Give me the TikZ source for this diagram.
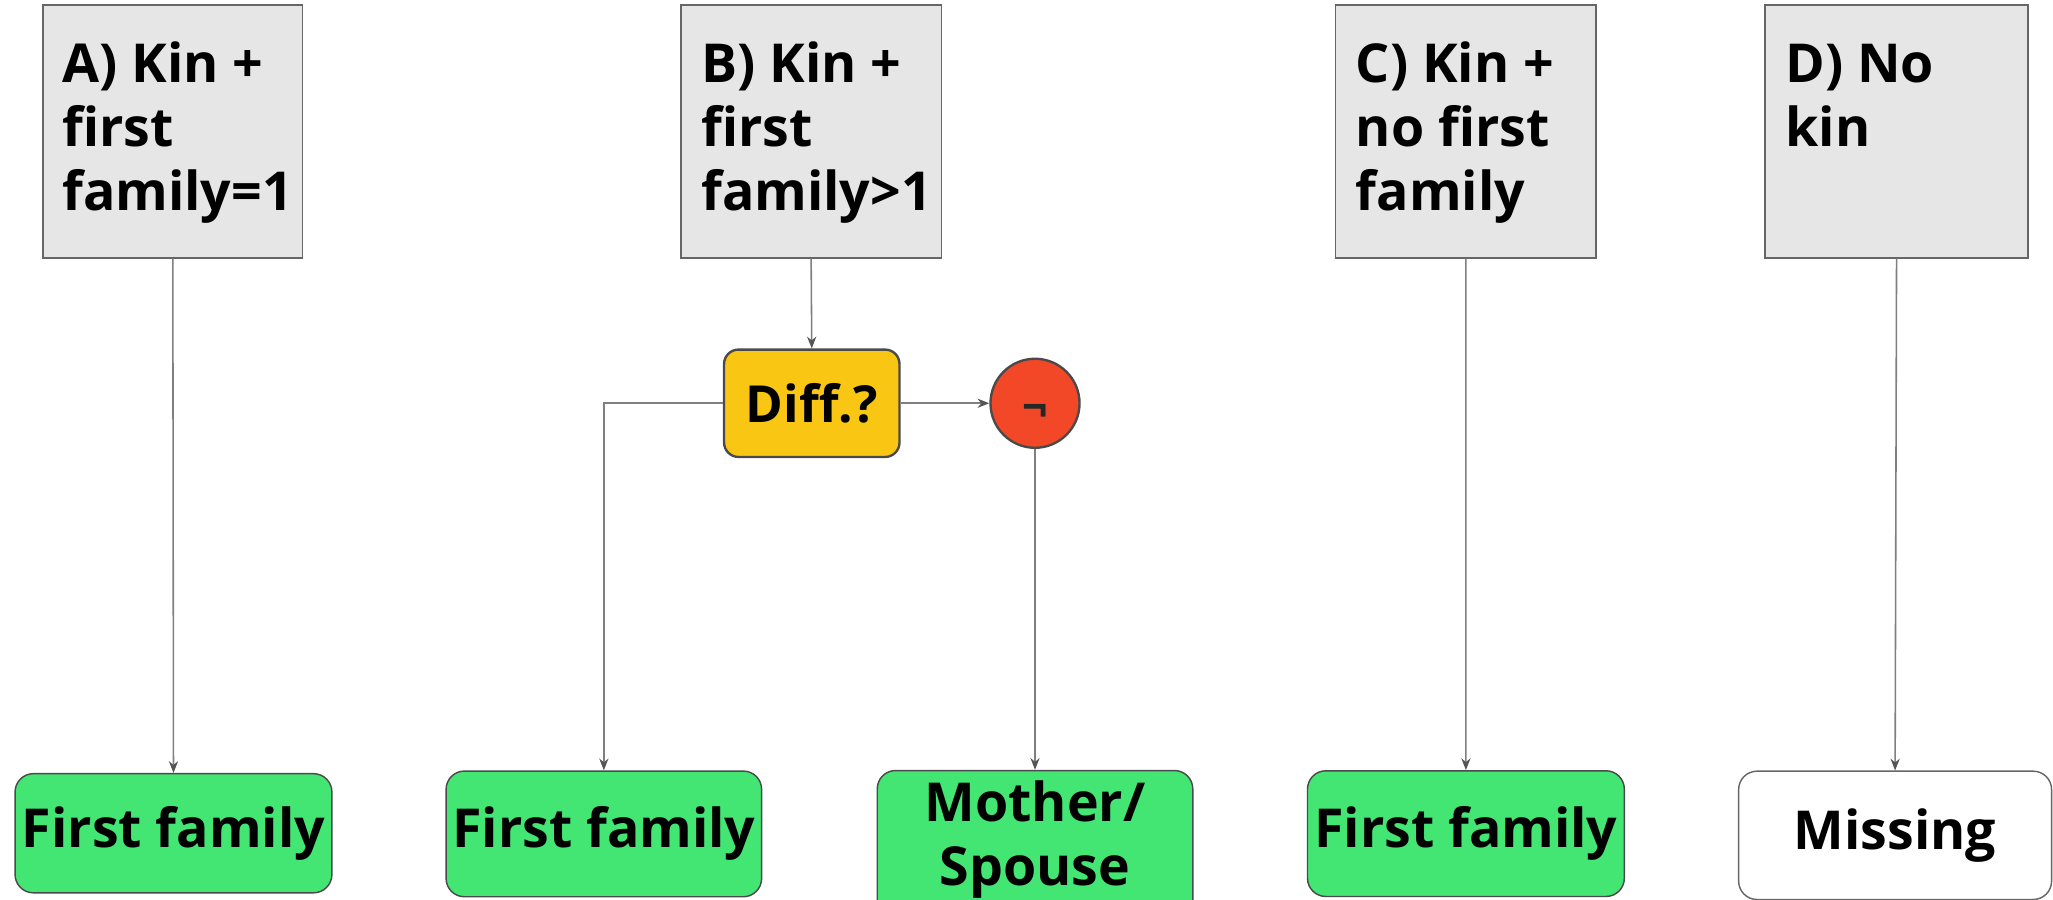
\documentclass[tikz,border=0pt]{standalone}
\usepackage{fontspec}
\setmainfont{Open Sans}
\usetikzlibrary{arrows.meta,calc}
\definecolor{boxfill}{HTML}{E6E6E6}
\definecolor{boxedge}{HTML}{666666}
\definecolor{greenfill}{HTML}{43E673}
\definecolor{edgedark}{HTML}{4A4A4A}
\definecolor{yellowfill}{HTML}{F8C613}
\definecolor{redfill}{HTML}{F24827}
\definecolor{linegray}{HTML}{7F7F7F}
\definecolor{tipgray}{HTML}{555555}
\tikzset{
  graybox/.style={draw=boxedge, fill=boxfill, line width=1.2pt, inner sep=0pt},
  endbox/.style={draw=edgedark, fill=greenfill, line width=1.1pt, rounded corners=14pt, inner sep=0pt},
  whitebox/.style={endbox, fill=white, draw=boxedge},
  headtext/.style={anchor=base west, inner sep=0pt},
  conn/.style={draw=linegray, line width=1.2pt, -{Stealth[length=9pt,width=7pt,color=tipgray]}},
}
\newcommand{\headlines}[1]{\parbox[t]{190pt}{\raggedright\fontsize{41}{49}\selectfont\bfseries #1}}
\begin{document}
\begin{tikzpicture}[x=1pt,y=-1pt,font=\fontsize{41}{49}\selectfont\bfseries]
\useasboundingbox (0,0) rectangle (1568,687);
% header boxes
\node[graybox, minimum width=198pt, minimum height=193pt] (A) at (132,100.5) {};
\node[graybox, minimum width=199pt, minimum height=193pt] (B) at (619.5,100.5) {};
\node[graybox, minimum width=199pt, minimum height=193pt] (C) at (1119.5,100.5) {};
\node[graybox, minimum width=201pt, minimum height=193pt] (D) at (1448.5,100.5) {};
\node[headtext] (Atxt) at ($(A.north west)+(15,59.5)$) {\headlines{A) Kin +\\first\\family=1}};
\node[headtext] (Btxt) at ($(B.north west)+(16,59.5)$) {\headlines{B) Kin +\\first\\family>1}};
\node[headtext] (Ctxt) at ($(C.north west)+(16,59.5)$) {\headlines{C) Kin +\\no first\\family}};
\node[headtext] (Dtxt) at ($(D.north west)+(16,59.5)$) {\headlines{D) No\\kin}};
% decision
\node[draw=edgedark, fill=yellowfill, line width=1.8pt, rounded corners=11pt, minimum width=134pt, minimum height=82pt, inner sep=0pt, font=\fontsize{39}{45}\selectfont\bfseries] (diff) at (620,308) {Diff.?};
\node[circle, draw=edgedark, fill=redfill, line width=1.8pt, minimum size=68pt, inner sep=0pt, font=\fontsize{34}{38}\selectfont\bfseries, text=black!85] (neg) at (790.5,308) {\raisebox{-15pt}[0pt][0pt]{¬}};
% end boxes
\node[endbox, minimum width=242pt, minimum height=91pt] (FFA) at (132.5,636.4) {First family};
\node[endbox, minimum width=241pt, minimum height=96pt] (FFB) at (461.2,636.9) {First family};
\node[endbox, minimum width=241pt, minimum height=121pt] (MS) at (790.5,649) {};
\node[inner sep=0pt, anchor=base] (MStxt) at (790.5,627.7) {\parbox[t]{230pt}{\centering\fontsize{41}{48.5}\selectfont\bfseries Mother/\\Spouse}};
\node[endbox, minimum width=242pt, minimum height=96pt] (FFC) at (1119.6,636.7) {First family};
\node[whitebox, minimum width=239pt, minimum height=98pt] (MISS) at (1447.4,638) {Missing};
% connectors
\draw[conn] (A.south) -- (FFA.north);
\draw[conn] (B.south) -- (diff.north);
\draw[conn] (diff.west) -| (FFB.north);
\draw[conn] (diff.east) -- (neg.west);
\draw[conn] (neg.south) -- (MS.north);
\draw[conn] (C.south) -- (FFC.north);
\draw[conn] (D.south) -- (MISS.north);
\end{tikzpicture}
\end{document}
